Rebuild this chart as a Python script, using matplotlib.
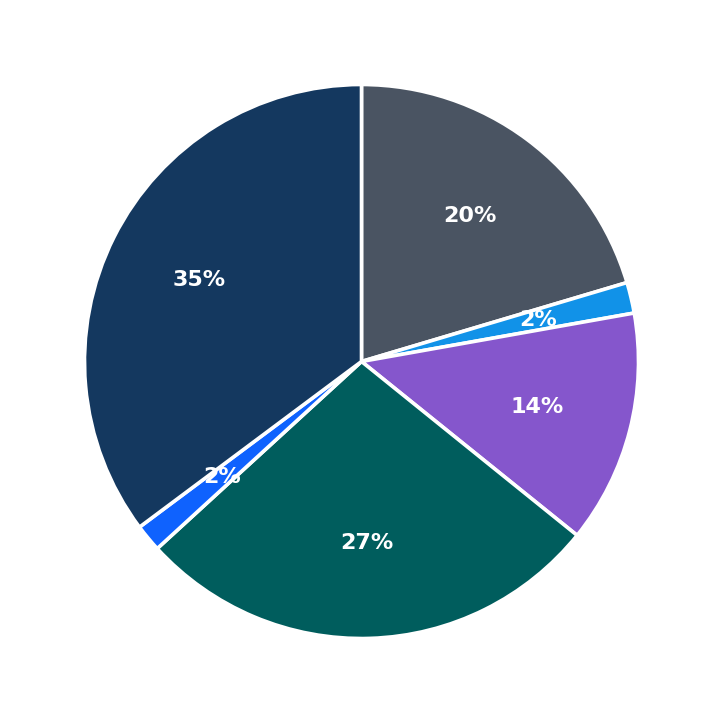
import matplotlib
matplotlib.use("Agg")
import matplotlib.pyplot as plt

labels = ["A", "B", "C", "D", "E", "F"]
values = [20.4, 1.8, 13.6, 27.4, 1.6, 35.2]
colors = ["#4a5462", "#1192e8", "#8556cc", "#005d5d", "#0f62fe", "#14385f"]

fig = plt.figure(figsize=(7.23, 7.23), dpi=100)
ax = fig.add_axes([0, 0, 1, 1])
wedges, texts, autotexts = ax.pie(
    values, colors=colors, startangle=90, counterclock=False,
    autopct="%1.0f%%", pctdistance=0.655, radius=1.0,
    wedgeprops=dict(edgecolor="white", linewidth=2.6),
    textprops=dict(color="white", fontsize=16, fontweight="bold"),
)
lim = 361.5 / 277
ax.set_xlim(-lim, lim)
ax.set_ylim(-lim, lim)
ax.set_aspect("equal")
ax.axis("off")
fig.savefig("out.png", dpi=100, facecolor="white")
